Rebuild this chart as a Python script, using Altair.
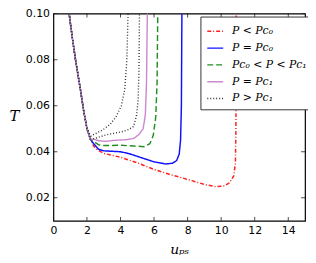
import altair as alt
import pandas as pd

# ---- data ----
series_names = ["P < Pc₀", "P = Pc₀", "Pc₀ < P < Pc₁", "P = Pc₁", "P > Pc₁"]

common_u = [0.94, 1.0, 1.13, 1.33, 1.62, 1.8, 2.0]
common_T = [0.100, 0.0965, 0.0894, 0.0794, 0.0666, 0.058, 0.0501]

red_u = [2.2, 2.4, 2.6, 3.0, 4.0, 5.0, 6.0, 7.0, 8.0, 9.0, 9.7, 10.2, 10.5, 10.75, 10.85, 10.88, 10.9]
red_T = [0.0455, 0.0425, 0.0410, 0.0393, 0.0376, 0.0352, 0.0323, 0.0300, 0.0280, 0.0258, 0.0248, 0.0252, 0.0265, 0.0295, 0.035, 0.05, 0.100]

blue_u = [2.2, 2.4, 2.7, 3.0, 3.5, 4.0, 4.5, 5.0, 5.5, 6.0, 6.7, 7.1, 7.35, 7.5, 7.58, 7.63, 7.66]
blue_T = [0.0455, 0.0435, 0.0410, 0.0404, 0.0402, 0.0400, 0.0392, 0.0380, 0.0368, 0.0356, 0.0347, 0.0350, 0.0362, 0.0390, 0.045, 0.060, 0.100]

green_u = [2.2, 2.4, 2.7, 3.0, 4.0, 4.8, 5.4, 5.75, 5.95, 6.1, 6.18, 6.22]
green_T = [0.0455, 0.0445, 0.0430, 0.0427, 0.0428, 0.0425, 0.0422, 0.0435, 0.0470, 0.055, 0.070, 0.100]

pink_u = [2.2, 2.35, 2.7, 3.1, 3.7, 4.3, 4.8, 5.1, 5.35, 5.48, 5.55, 5.6]
pink_T = [0.0455, 0.0455, 0.0448, 0.0445, 0.0450, 0.0452, 0.0458, 0.0475, 0.0500, 0.056, 0.070, 0.100]

black1_u = [2.24, 2.6, 2.92, 3.4, 3.76, 4.05, 4.25, 4.38, 4.45]
black1_T = [0.0468, 0.0482, 0.0494, 0.0520, 0.0555, 0.0600, 0.0670, 0.080, 0.100]

black2_u = [2.2, 2.34, 2.7, 3.12, 3.6, 4.09, 4.5, 4.78, 4.95, 5.05, 5.1, 5.13]
black2_T = [0.0455, 0.0455, 0.0463, 0.0473, 0.0480, 0.0487, 0.0497, 0.0510, 0.0555, 0.0623, 0.075, 0.100]

x_ticks = [0, 2, 4, 6, 8, 10, 12, 14]
y_ticks = [0.02, 0.04, 0.06, 0.08, 0.10]

colors = ["#ff2020", "#1010ff", "#1f8f1f", "#cc88cc", "#333333"]
dashes = [[4, 2, 1, 2], [1, 0], [6, 3], [1, 0], [1, 2]]
widths = [1.5, 1.4, 1.5, 1.0, 1.4]

# ---- build table ----
curves = [
    ("red", series_names[0], red_u, red_T),
    ("blue", series_names[1], blue_u, blue_T),
    ("green", series_names[2], green_u, green_T),
    ("pink", series_names[3], pink_u, pink_T),
    ("black1", series_names[4], black1_u, black1_T),
    ("black2", series_names[4], black2_u, black2_T),
]
rows = []
for cid, name, us, ts in curves:
    uu = common_u + us
    tt = common_T + ts
    for i, (u, t) in enumerate(zip(uu, tt)):
        rows.append({"curve": cid, "series": name, "u": u, "T": t, "idx": i})
df = pd.DataFrame(rows)

W, H = 255, 210
xscale = alt.Scale(domain=[0, 15], nice=False, zero=False)
yscale = alt.Scale(domain=[0.01, 0.10], nice=False, zero=False)

x_axis = alt.Axis(values=x_ticks, format="d", ticks=False, domain=False, grid=False,
                  labelPadding=4, labelOverlap=False, labelFlush=False,
                  title="uₚₛ", titleFont="DejaVu Serif",
                  titleFontStyle="italic", titleFontWeight="normal", titleFontSize=14,
                  titlePadding=7)
y_axis = alt.Axis(values=y_ticks, format=".2f", ticks=False, domain=False, grid=False,
                  labelPadding=4, labelOverlap=False, labelFlush=False,
                  title="T", titleFont="DejaVu Serif",
                  titleFontStyle="italic", titleFontWeight="normal", titleFontSize=15,
                  titleAngle=0, titleAlign="center", titleBaseline="middle",
                  titleX=-40, titleY=103)

lines = alt.Chart(df).mark_line(clip=True).encode(
    x=alt.X("u:Q", scale=xscale, axis=x_axis),
    y=alt.Y("T:Q", scale=yscale, axis=y_axis),
    color=alt.Color("series:N", scale=alt.Scale(domain=series_names, range=colors),
                    sort=series_names,
                    legend=alt.Legend(title=None, orient="none", legendX=149, legendY=3,
                                      symbolType="stroke", symbolStrokeWidth=1.4, symbolSize=260,
                                      labelFont="DejaVu Serif", labelFontStyle="italic",
                                      labelFontSize=11, strokeColor="#333333", fillColor="white",
                                      padding=6, rowPadding=3, labelOffset=8, cornerRadius=0)),
    strokeDash=alt.StrokeDash("series:N", scale=alt.Scale(domain=series_names, range=dashes),
                              sort=series_names, legend=alt.Legend(title=None)),
    strokeWidth=alt.StrokeWidth("series:N", scale=alt.Scale(domain=series_names, range=widths),
                                legend=None),
    detail="curve:N",
    order="idx:Q",
)

xt = pd.DataFrame({"u": x_ticks})
yt = pd.DataFrame({"T": y_ticks})
tick_bottom = alt.Chart(xt).mark_tick(orient="vertical", size=8, thickness=1, color="black", clip=True).encode(
    x=alt.X("u:Q", scale=xscale, axis=x_axis), y=alt.value(H))
tick_top = alt.Chart(xt).mark_tick(orient="vertical", size=8, thickness=1, color="black", clip=True).encode(
    x=alt.X("u:Q", scale=xscale, axis=x_axis), y=alt.value(0))
tick_left = alt.Chart(yt).mark_tick(orient="horizontal", size=8, thickness=1, color="black", clip=True).encode(
    y=alt.Y("T:Q", scale=yscale, axis=y_axis), x=alt.value(0))
tick_right = alt.Chart(yt).mark_tick(orient="horizontal", size=8, thickness=1, color="black", clip=True).encode(
    y=alt.Y("T:Q", scale=yscale, axis=y_axis), x=alt.value(W))

chart = alt.layer(lines, tick_bottom, tick_top, tick_left, tick_right).properties(
    width=W, height=H,
    autosize=alt.AutoSizeParams(type="none"),
    padding={"left": 46, "top": 4, "right": 3, "bottom": 35},
).configure_view(stroke="black", strokeWidth=1.2).configure_axis(
    labelFont="DejaVu Sans", labelFontSize=11, labelColor="black", titleColor="black"
)

chart.save("out.html", embed_options={"renderer": "svg", "actions": False})
